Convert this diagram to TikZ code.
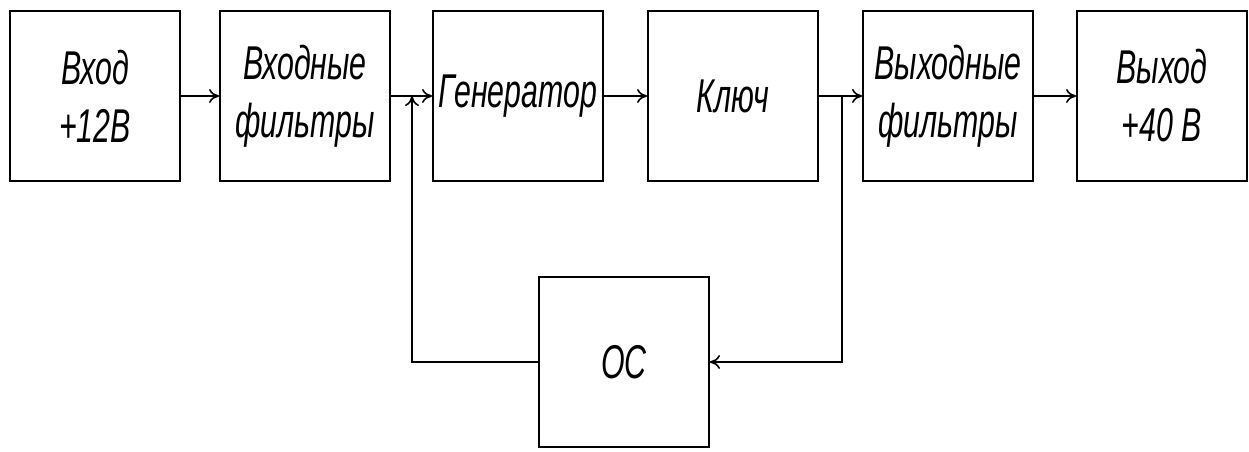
\documentclass[tikz,border=0pt]{standalone}
\usepackage{fontspec}
\setmainfont{Liberation Sans}[FakeStretch=0.64]
\usetikzlibrary{arrows.meta}
\begin{document}
\begin{tikzpicture}[x=0.02cm, y=-0.02cm, >={To[length=2mm, width=2.8mm]},
    blok/.style={draw, line width=1.1pt, minimum width=3.4cm, minimum height=3.4cm,
      align=center, inner sep=0pt, font=\fontsize{27}{33}\selectfont\itshape},
    svyaz/.style={line width=0.9pt}]
      \useasboundingbox (0, 0) rectangle (1249, 452);
      \node [blok] (vhod) at (95, 96) {Вход\\+12В};
      \node [blok] (vhfilt) at (305, 96) {Входные\\фильтры};
      \node [blok] (gen) at (518, 96) {Генератор};
      \node [blok] (kluch) at (733, 96) {Ключ};
      \node [blok] (vyhfilt) at (948, 96) {Выходные\\фильтры};
      \node [blok] (vyhod) at (1162, 96) {Выход\\+40 В};
      \node [blok] (os) at (624, 362) {ОС};
      \coordinate (j1) at (412, 96);
      \coordinate (j2) at (842, 96);
      \draw [svyaz, ->] (vhod) -- (vhfilt);
      \draw [svyaz, ->] (vhfilt) -- (gen);
      \draw [svyaz, ->] (gen) -- (kluch);
      \draw [svyaz, ->] (kluch) -- (vyhfilt);
      \draw [svyaz, ->] (vyhfilt) -- (vyhod);
      \draw [svyaz, ->] (j2) |- (os.east);
      \draw [svyaz, ->] (os.west) -| (j1);
    \end{tikzpicture}
\end{document}
